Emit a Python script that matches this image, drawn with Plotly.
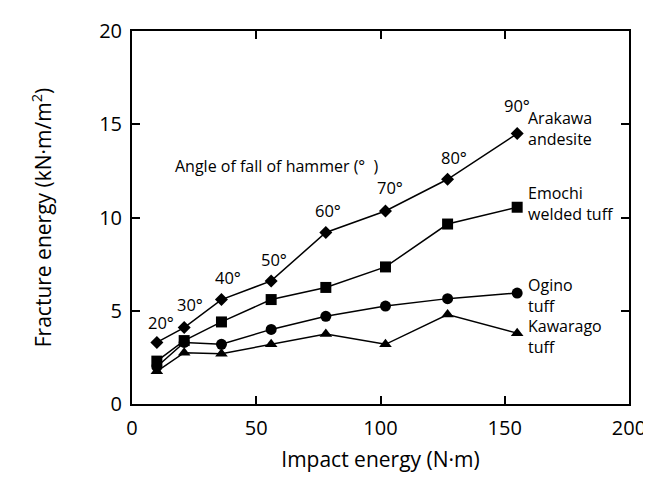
import plotly.graph_objects as go

impact_energy = [10, 21, 36, 56, 78, 102, 127, 155]
arakawa = [3.3, 4.1, 5.6, 6.6, 9.2, 10.35, 12.05, 14.5]
emochi = [2.3, 3.4, 4.4, 5.6, 6.25, 7.35, 9.65, 10.55]
ogino = [2.0, 3.3, 3.2, 4.0, 4.7, 5.25, 5.65, 5.95]
kawarago = [1.75, 2.75, 2.7, 3.2, 3.75, 3.2, 4.8, 3.8]
angles = ["20°", "30°", "40°", "50°", "60°", "70°", "80°", "90°"]
series_names = ["Arakawa<br>andesite", "Emochi<br>welded tuff", "Ogino<br>tuff", "Kawarago<br>tuff"]

FONT = "Open Sans"
fig = go.Figure()
symbols = ["diamond", "square", "circle", "triangle-up"]
sizes = [10, 11, 11, 11]
for ys, sym, sz in zip([arakawa, emochi, ogino, kawarago], symbols, sizes):
    fig.add_trace(go.Scatter(x=impact_energy, y=ys, mode="lines+markers",
                             line=dict(color="black", width=1.5),
                             marker=dict(symbol=sym, size=sz, color="black"),
                             showlegend=False))

# angle label positions (data coords)
angle_pos = [(11.5, 4.35), (23.5, 5.35), (38.5, 6.8), (57, 7.75),
             (79, 10.35), (104, 11.6), (129.5, 13.2), (155, 16.0)]
for t, (ax, ay) in zip(angles, angle_pos):
    fig.add_annotation(x=ax, y=ay, text=t, showarrow=False, xref="x", yref="y",
                       font=dict(family=FONT, size=16.5, color="black"))

label_pos = [14.75, 10.75, 5.8, 3.6]
for t, ly in zip(series_names, label_pos):
    fig.add_annotation(x=158.5, y=ly, text=t, showarrow=False, xref="x", yref="y",
                       xanchor="left", align="left",
                       font=dict(family=FONT, size=16, color="black"))

fig.add_annotation(x=16.5, y=12.75, text="Angle of fall of hammer (°  )", showarrow=False,
                   xref="x", yref="y", xanchor="left",
                   font=dict(family=FONT, size=16, color="black"))

axis_common = dict(showline=True, linecolor="black", linewidth=2, mirror="ticks",
                   ticks="inside", ticklen=8, tickwidth=1.5, tickcolor="black",
                   showgrid=False, zeroline=False, automargin=False,
                   tickfont=dict(family=FONT, size=20, color="black"))
fig.update_xaxes(range=[0, 200], tickvals=[0, 50, 100, 150, 200], ticklabelstandoff=5,
                 title=dict(text="Impact energy (N·m)", font=dict(family=FONT, size=21, color="black"),
                            standoff=12),
                 **axis_common)
fig.update_yaxes(range=[0, 20], tickvals=[0, 5, 10, 15, 20], ticklabelstandoff=4,
                 title=dict(text="Fracture energy (kN·m/m<sup>2</sup>)",
                            font=dict(family=FONT, size=21, color="black"), standoff=42),
                 **axis_common)

fig.update_layout(width=651, height=477, plot_bgcolor="white", paper_bgcolor="white",
                  margin=dict(l=124, r=30, t=23, b=81), showlegend=False)
fig.write_html("out.html")
